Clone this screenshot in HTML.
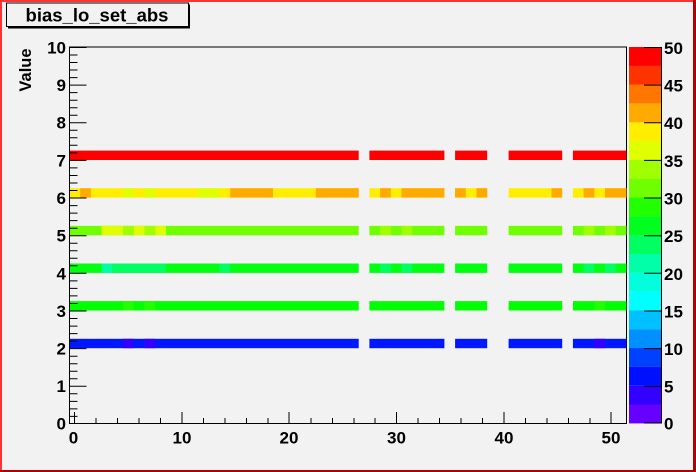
<!DOCTYPE html>
<html><head><meta charset="utf-8"><style>
html,body{margin:0;padding:0;background:#f2f2f2;}
svg{display:block;font-family:"Liberation Sans",sans-serif;font-weight:bold;}
</style></head><body>
<svg width="696" height="472" viewBox="0 0 696 472" xmlns="http://www.w3.org/2000/svg">
<rect x="0" y="0" width="696" height="472" fill="#f2f2f2"/>
<rect x="0" y="0" width="2" height="472" fill="#ff3333"/>
<rect x="0" y="0" width="696" height="2" fill="#ff3333"/>
<rect x="693" y="0" width="3" height="472" fill="#b00000"/>
<rect x="0" y="470" width="696" height="2" fill="#b00000"/>

<rect x="8" y="4.5" width="182" height="24" fill="#000"/>
<rect x="6.5" y="3" width="182" height="23.5" fill="#f2f2f2" stroke="#000" stroke-width="1"/>
<text x="97" y="21.5" font-size="18.5" text-anchor="middle">bias_lo_set_abs</text>

<text transform="translate(31,70) rotate(-90)" font-size="16.5" text-anchor="middle">Value</text>

<rect x="69.5" y="47" width="557" height="376.5" fill="#f2f2f2" stroke="#000" stroke-width="1"/>

<g fill="#ff0000">
<rect x="69.5" y="150.6" width="289.2" height="9.4"/><rect x="369.4" y="150.6" width="75" height="9.4"/><rect x="455.1" y="150.6" width="32.1" height="9.4"/><rect x="508.6" y="150.6" width="53.6" height="9.4"/><rect x="572.9" y="150.6" width="53.5" height="9.4"/>
</g>
<g transform="translate(0,37.6)"><g fill="#ffee00">
<rect x="69.5" y="150.6" width="289.2" height="9.4"/><rect x="369.4" y="150.6" width="75" height="9.4"/><rect x="455.1" y="150.6" width="32.1" height="9.4"/><rect x="508.6" y="150.6" width="53.6" height="9.4"/><rect x="572.9" y="150.6" width="53.5" height="9.4"/>
</g><g fill="#ffaa00">
<rect x="80.2" y="150.6" width="10.7" height="9.4"/><rect x="230.2" y="150.6" width="42.8" height="9.4"/><rect x="315.8" y="150.6" width="42.9" height="9.4"/><rect x="380.1" y="150.6" width="10.7" height="9.4"/><rect x="401.5" y="150.6" width="42.9" height="9.4"/><rect x="455.1" y="150.6" width="10.7" height="9.4"/><rect x="476.5" y="150.6" width="10.7" height="9.4"/><rect x="551.5" y="150.6" width="10.7" height="9.4"/><rect x="583.6" y="150.6" width="10.7" height="9.4"/><rect x="605" y="150.6" width="21.4" height="9.4"/>
</g><g fill="#e0ff00">
<rect x="123.1" y="150.6" width="10.7" height="9.4"/><rect x="144.5" y="150.6" width="10.7" height="9.4"/><rect x="198" y="150.6" width="21.4" height="9.4"/>
</g></g>
<g transform="translate(0,75.25)"><g fill="#70ff00">
<rect x="69.5" y="150.6" width="289.2" height="9.4"/><rect x="369.4" y="150.6" width="75" height="9.4"/><rect x="455.1" y="150.6" width="32.1" height="9.4"/><rect x="508.6" y="150.6" width="53.6" height="9.4"/><rect x="572.9" y="150.6" width="53.5" height="9.4"/>
</g><g fill="#e0ff00">
<rect x="101.6" y="150.6" width="21.5" height="9.4"/><rect x="133.8" y="150.6" width="10.7" height="9.4"/><rect x="155.2" y="150.6" width="10.7" height="9.4"/>
</g><g fill="#a0ff00">
<rect x="123.1" y="150.6" width="10.7" height="9.4"/><rect x="144.5" y="150.6" width="10.7" height="9.4"/><rect x="380.1" y="150.6" width="10.7" height="9.4"/><rect x="401.5" y="150.6" width="10.7" height="9.4"/><rect x="583.6" y="150.6" width="10.7" height="9.4"/><rect x="605" y="150.6" width="10.7" height="9.4"/>
</g></g>
<g transform="translate(0,112.9)"><g fill="#00ff10">
<rect x="69.5" y="150.6" width="289.2" height="9.4"/><rect x="369.4" y="150.6" width="75" height="9.4"/><rect x="455.1" y="150.6" width="32.1" height="9.4"/><rect x="508.6" y="150.6" width="53.6" height="9.4"/><rect x="572.9" y="150.6" width="53.5" height="9.4"/>
</g><g fill="#00ff60">
<rect x="112.3" y="150.6" width="53.6" height="9.4"/><rect x="219.4" y="150.6" width="10.8" height="9.4"/><rect x="380.1" y="150.6" width="10.7" height="9.4"/><rect x="401.5" y="150.6" width="10.7" height="9.4"/><rect x="583.6" y="150.6" width="10.7" height="9.4"/><rect x="605" y="150.6" width="10.7" height="9.4"/>
</g><rect x="101.6" y="150.6" width="10.7" height="9.4" fill="#00ffa0"/></g>
<g transform="translate(0,150.5)"><g fill="#00ff00">
<rect x="69.5" y="150.6" width="289.2" height="9.4"/><rect x="369.4" y="150.6" width="75" height="9.4"/><rect x="455.1" y="150.6" width="32.1" height="9.4"/><rect x="508.6" y="150.6" width="53.6" height="9.4"/><rect x="572.9" y="150.6" width="53.5" height="9.4"/>
</g><g fill="#22ff00">
<rect x="123.1" y="150.6" width="10.7" height="9.4"/><rect x="144.5" y="150.6" width="10.7" height="9.4"/><rect x="594.3" y="150.6" width="10.7" height="9.4"/>
</g></g>
<g transform="translate(0,188.2)"><g fill="#0018ff">
<rect x="69.5" y="150.6" width="289.2" height="9.4"/><rect x="369.4" y="150.6" width="75" height="9.4"/><rect x="455.1" y="150.6" width="32.1" height="9.4"/><rect x="508.6" y="150.6" width="53.6" height="9.4"/><rect x="572.9" y="150.6" width="53.5" height="9.4"/>
</g><g fill="#3300ff">
<rect x="123.1" y="150.6" width="10.7" height="9.4"/><rect x="144.5" y="150.6" width="10.7" height="9.4"/><rect x="594.3" y="150.6" width="10.7" height="9.4"/>
</g></g>

<line x1="69.5" y1="47" x2="69.5" y2="423.5" stroke="#000" stroke-width="1"/>
<line x1="69.5" y1="423.5" x2="626.5" y2="423.5" stroke="#000" stroke-width="1"/>
<g stroke="#000" stroke-width="1">
<path d="M69.5 47.5h17M69.5 85.1h17M69.5 122.8h17M69.5 160.4h17M69.5 198h17M69.5 235.7h17M69.5 273.3h17M69.5 311h17M69.5 348.6h17M69.5 386.3h17M69.5 423.5h17"/>
<path d="M69.5 55h8M69.5 62.5h8M69.5 70h8M69.5 77.6h8M69.5 92.6h8M69.5 100.2h8M69.5 107.7h8M69.5 115.2h8M69.5 130.3h8M69.5 137.8h8M69.5 145.3h8M69.5 152.9h8M69.5 167.9h8M69.5 175.5h8M69.5 183h8M69.5 190.5h8M69.5 205.6h8M69.5 213.1h8M69.5 220.6h8M69.5 228.2h8M69.5 243.2h8M69.5 250.8h8M69.5 258.3h8M69.5 265.8h8M69.5 280.9h8M69.5 288.4h8M69.5 295.9h8M69.5 303.5h8M69.5 318.5h8M69.5 326.1h8M69.5 333.6h8M69.5 341.1h8M69.5 356.2h8M69.5 363.7h8M69.5 371.2h8M69.5 378.8h8M69.5 393.8h8M69.5 401.4h8M69.5 408.9h8M69.5 416.4h8"/>
<path d="M74.5 423v-11M182 423v-11M289 423v-11M396.5 423v-11M504 423v-11M611 423v-11"/>
<path d="M96 423v-5M117.5 423v-5M139 423v-5M160.5 423v-5M203.5 423v-5M225 423v-5M246.5 423v-5M268 423v-5M311 423v-5M332.5 423v-5M354 423v-5M375 423v-5M418 423v-5M439.5 423v-5M461 423v-5M482.5 423v-5M525.5 423v-5M547 423v-5M568.5 423v-5M590 423v-5"/>
</g>
<g font-size="17" text-anchor="end">
<text x="66" y="53.5">10</text><text x="66" y="91">9</text><text x="66" y="128.7">8</text><text x="66" y="166.3">7</text><text x="66" y="204">6</text><text x="66" y="241.6">5</text><text x="66" y="279.3">4</text><text x="66" y="316.9">3</text><text x="66" y="354.5">2</text><text x="66" y="392.2">1</text><text x="66" y="429.5">0</text>
</g>
<g font-size="17" text-anchor="middle">
<text x="73.5" y="443.5">0</text><text x="182" y="443.5">10</text><text x="289" y="443.5">20</text><text x="396.5" y="443.5">30</text><text x="504" y="443.5">40</text><text x="611" y="443.5">50</text>
</g>

<g>
<rect x="629" y="404.5" width="32" height="18.9" fill="#6600ff"/>
<rect x="629" y="385.7" width="32" height="18.9" fill="#3300ff"/>
<rect x="629" y="366.8" width="32" height="18.9" fill="#0010ff"/>
<rect x="629" y="348" width="32" height="18.9" fill="#0040ff"/>
<rect x="629" y="329.2" width="32" height="18.9" fill="#0090ff"/>
<rect x="629" y="310.4" width="32" height="18.9" fill="#00c0ff"/>
<rect x="629" y="291.6" width="32" height="18.9" fill="#00ffff"/>
<rect x="629" y="272.7" width="32" height="18.9" fill="#00ffdd"/>
<rect x="629" y="253.9" width="32" height="18.9" fill="#00ffa8"/>
<rect x="629" y="235.1" width="32" height="18.9" fill="#00ff60"/>
<rect x="629" y="216.3" width="32" height="18.9" fill="#00ff20"/>
<rect x="629" y="197.5" width="32" height="18.9" fill="#22ff00"/>
<rect x="629" y="178.6" width="32" height="18.9" fill="#70ff00"/>
<rect x="629" y="159.8" width="32" height="18.9" fill="#a0ff00"/>
<rect x="629" y="141" width="32" height="18.9" fill="#e0ff00"/>
<rect x="629" y="122.2" width="32" height="18.9" fill="#ffee00"/>
<rect x="629" y="103.4" width="32" height="18.9" fill="#ffaa00"/>
<rect x="629" y="84.5" width="32" height="18.9" fill="#ff7700"/>
<rect x="629" y="65.7" width="32" height="18.9" fill="#ff3300"/>
<rect x="629" y="47" width="32" height="18.9" fill="#ff0000"/>
</g>
<line x1="661.5" y1="47" x2="661.5" y2="423.5" stroke="#000"/>
<g stroke="#000"><path d="M644 47.5h17M644 85.1h17M644 122.8h17M644 160.4h17M644 198h17M644 235.7h17M644 273.3h17M644 311h17M644 348.6h17M644 386.3h17M644 423h17"/></g>
<g font-size="17">
<text x="664" y="54">50</text><text x="664" y="91.5">45</text><text x="664" y="129.2">40</text><text x="664" y="166.8">35</text><text x="664" y="204.5">30</text><text x="664" y="242.1">25</text><text x="664" y="279.8">20</text><text x="664" y="317.4">15</text><text x="664" y="355">10</text><text x="664" y="392.7">5</text><text x="664" y="429.5">0</text>
</g>
</svg>
</body></html>
